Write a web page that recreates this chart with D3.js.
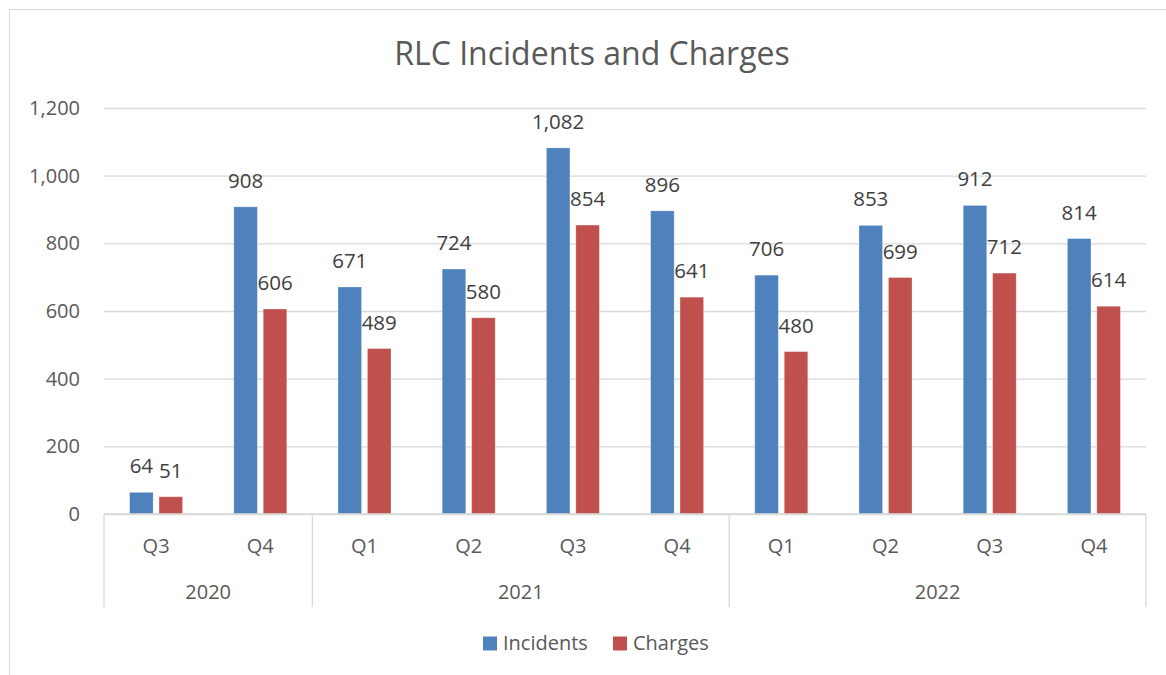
<!DOCTYPE html>
<html>
<head>
<meta charset="utf-8">
<script src="https://cdn.jsdelivr.net/npm/d3@7"></script>
<style>
  html, body { margin: 0; padding: 0; background: #fff; }
  svg { display: block; font-family: "Open Sans", "Noto Sans", sans-serif; }
</style>
</head>
<body>
<svg id="chart" width="1166" height="675"></svg>
<script>
const quarters = ["Q3", "Q4", "Q1", "Q2", "Q3", "Q4", "Q1", "Q2", "Q3", "Q4"];
const years = ["2020", "2020", "2021", "2021", "2021", "2021", "2022", "2022", "2022", "2022"];
const incidents = [64, 908, 671, 724, 1082, 896, 706, 853, 912, 814];
const charges = [51, 606, 489, 580, 854, 641, 480, 699, 712, 614];
const seriesNames = ["Incidents", "Charges"];
const seriesColors = ["#4f81bd", "#c0504d"];
const yTicks = [0, 200, 400, 600, 800, 1000, 1200];

(function () {
const svg = d3.select("#chart");
const pL = 104, pR = 1146, pT = 108, pB = 514;

// outer border
svg.append("rect").attr("x", 9.5).attr("y", 9.5).attr("width", 1170).attr("height", 700)
  .attr("fill", "#fff").attr("stroke", "#d9d9d9").attr("stroke-width", 1);

// title
svg.append("text").attr("x", 592).attr("y", 65).attr("text-anchor", "middle")
  .attr("fill", "#595959").attr("font-size", 32).text("RLC Incidents and Charges");

const idx = d3.range(quarters.length);
const x0 = d3.scaleBand().domain(idx).range([pL, pR]).padding(0);
const groupW = 53;
const off = (x0.bandwidth() - groupW) / 2;
const x1 = d3.scaleBand().domain(seriesNames).range([off, off + groupW]).paddingInner(0.2).paddingOuter(0);
const y = d3.scaleLinear().domain([0, 1200]).range([pB, pT]);

// gridlines
const yAxis = d3.axisLeft(y).tickValues(yTicks).tickSize(-(pR - pL)).tickPadding(24)
  .tickFormat(d3.format(","));
const gy = svg.append("g").attr("transform", `translate(${pL},0)`).call(yAxis);
gy.select(".domain").remove();
gy.selectAll(".tick line").attr("stroke", "#d9d9d9").attr("stroke-width", 1.3);
gy.selectAll(".tick text").attr("fill", "#595959").attr("font-size", 20)
  .attr("font-family", "'Open Sans', sans-serif");

// bars
const data = idx.map(i => ({ i, vals: [incidents[i], charges[i]] }));
const groups = svg.append("g").selectAll("g").data(data).join("g")
  .attr("transform", d => `translate(${x0(d.i)},0)`);
groups.selectAll("rect").data(d => d.vals.map((v, k) => ({ v, k }))).join("rect")
  .attr("x", d => x1(seriesNames[d.k]))
  .attr("width", x1.bandwidth())
  .attr("y", d => y(d.v))
  .attr("height", d => y(0) - y(d.v))
  .attr("fill", d => seriesColors[d.k])
  .attr("stroke", "#fff").attr("stroke-opacity", 0.35).attr("stroke-width", 0.8);
groups.selectAll("text").data(d => d.vals.map((v, k) => ({ v, k }))).join("text")
  .attr("x", d => x1(seriesNames[d.k]) + x1.bandwidth() / 2)
  .attr("y", d => y(d.v) - 19)
  .attr("text-anchor", "middle").attr("fill", "#404040").attr("font-size", 20.5)
  .text(d => d3.format(",")(d.v));

// x axis baseline
svg.append("line").attr("x1", pL).attr("x2", pR).attr("y1", y(0)).attr("y2", y(0))
  .attr("stroke", "#d9d9d9").attr("stroke-width", 1.3);

// quarter labels
svg.append("g").selectAll("text").data(idx).join("text")
  .attr("x", i => x0(i) + x0.bandwidth() / 2).attr("y", 553)
  .attr("text-anchor", "middle").attr("fill", "#595959").attr("font-size", 20)
  .text(i => quarters[i]);

// year groups
const yearList = Array.from(new Set(years));
const yearSpans = yearList.map(yr => {
  const is = idx.filter(i => years[i] === yr);
  return { yr, a: x0(is[0]), b: x0(is[is.length - 1]) + x0.bandwidth() };
});
const sepX = [yearSpans[0].a].concat(yearSpans.map(s => s.b));
svg.append("g").selectAll("line").data(sepX).join("line")
  .attr("x1", d => d).attr("x2", d => d).attr("y1", y(0)).attr("y2", 607)
  .attr("stroke", "#d9d9d9").attr("stroke-width", 1.3);
svg.append("g").selectAll("text").data(yearSpans).join("text")
  .attr("x", d => (d.a + d.b) / 2).attr("y", 599)
  .attr("text-anchor", "middle").attr("fill", "#595959").attr("font-size", 20)
  .text(d => d.yr);

// legend
const legend = svg.append("g");
const legX = [483, 613];
seriesNames.forEach((n, k) => {
  legend.append("rect").attr("x", legX[k]).attr("y", 636.5).attr("width", 14).attr("height", 14)
    .attr("fill", seriesColors[k]);
  legend.append("text").attr("x", legX[k] + 20).attr("y", 650)
    .attr("fill", "#595959").attr("font-size", 20).text(n);
});
})();
</script>
</body>
</html>
